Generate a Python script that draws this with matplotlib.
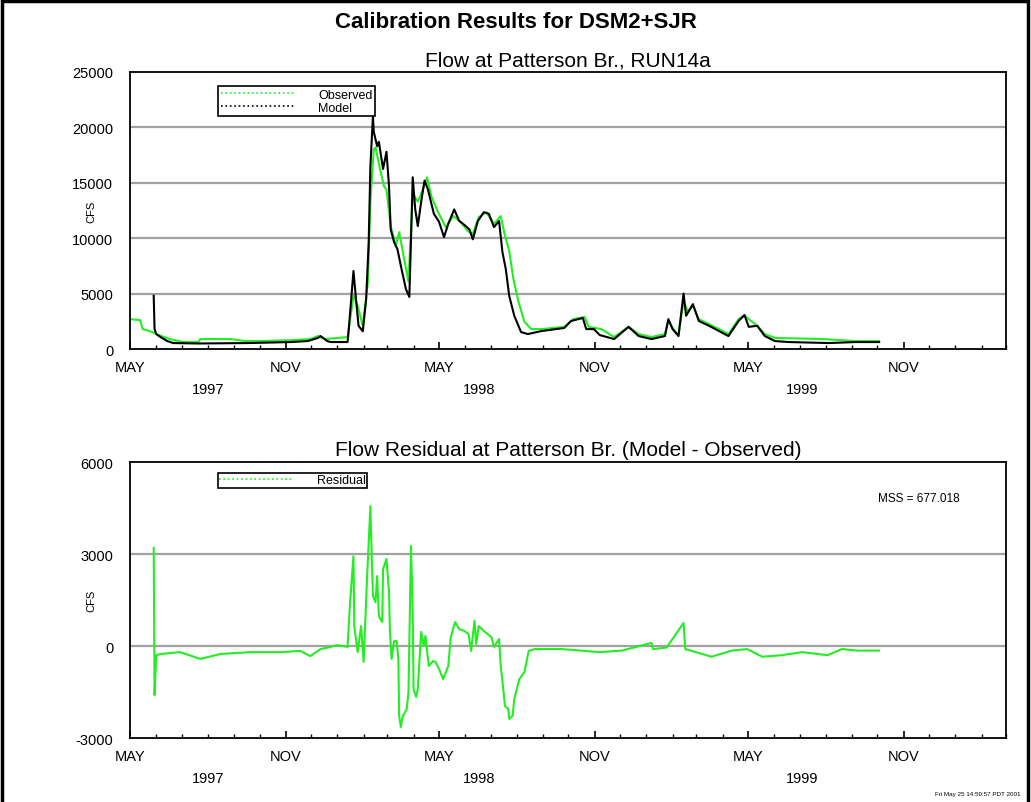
"""
Calibration results, DSM2+SJR: flow and residual at Patterson Br.
"""

import matplotlib
matplotlib.use('Agg')
import matplotlib.pyplot as plt
import matplotlib.dates as mdates
from matplotlib.lines import Line2D
from matplotlib.patches import Rectangle
import pandas as pd

plt.rcParams['font.family'] = ['Liberation Sans', 'DejaVu Sans']
plt.rcParams['axes.unicode_minus'] = False

start = pd.Timestamp('1997-05-01')

# days since 1997-05-01 and flow (cfs)
obs_days = [0, 12, 15, 24, 27, 36, 47, 63, 81, 83, 119, 136, 154, 190, 213, 222, 231, 257,
            264, 269, 275, 281, 284, 288, 290, 295, 300, 303, 308, 314, 318, 324, 329,
            334, 340, 346, 351, 356, 364, 373, 382, 391, 399, 405, 412, 421, 430, 438,
            442, 448, 453, 459, 466, 474, 486, 513, 524, 537, 542, 557, 572, 589, 601,
            616, 632, 636, 642, 648, 654, 659, 665, 672, 696, 707, 719, 726, 741, 750,
            762, 818, 857, 885]
obs_flow = [2700, 2600, 1800, 1600, 1500, 1200, 900, 630, 630, 900, 900, 720, 720, 800, 900, 1170, 900, 1080,
            4800, 3900, 2100, 6000, 13300, 18000, 18200, 16400, 14700, 14400, 11100, 9300, 10550, 8100, 6100,
            14000, 13300, 14400, 15500, 13800, 12350, 11000, 12000, 11450, 10650, 10400, 11900, 12350, 11300, 12000,
            10550, 8850, 6300, 4250, 2450, 1800, 1800, 2000, 2700, 2900, 2000, 1800, 1080, 2000, 1350,
            1080, 1350, 2530, 1800, 1260, 4300, 3400, 3900, 2700, 1800, 1350, 2700, 3000, 2100, 1350,
            1000, 900, 720, 720]

mod_days = [28, 29, 31, 36, 44, 51, 80, 140, 190, 210, 222, 225, 233, 237, 257, 258,
            264, 267, 270, 275, 279, 282, 284, 287, 288, 292, 294, 299, 303, 306, 308,
            312, 316, 320, 326, 330, 332, 334, 337, 340, 344, 348, 352, 359, 365, 371,
            376, 383, 389, 395, 401, 405, 411, 418, 424, 430, 436, 440, 444, 448, 454,
            462, 470, 486, 513, 521, 535, 539, 548, 555, 572, 589, 601, 616, 632, 636,
            641, 648, 654, 657, 665, 672, 684, 696, 707, 719, 726, 731, 741, 750, 762,
            778, 826, 857, 885]
mod_flow = [4800, 1800, 1350, 1080, 720, 540, 500, 540, 630, 720, 1000, 1170, 720, 630, 630, 1350,
            7040, 4500, 2100, 1600, 4500, 9650, 16500, 21000, 19600, 18300, 18700, 16250, 17800, 14700, 10800,
            9650, 9000, 7500, 5400, 4700, 9900, 15500, 12600, 11100, 13300, 15200, 14400, 12200, 11500, 10100,
            11300, 12600, 11550, 11200, 10800, 9900, 11550, 12350, 12200, 11000, 11550, 8750, 7200, 4800, 3000,
            1530, 1350, 1620, 1900, 2530, 2800, 1800, 1800, 1260, 900, 2000, 1170, 900, 1170, 2700,
            1800, 1170, 5000, 3000, 4050, 2530, 2100, 1620, 1170, 2530, 3070, 2000, 2100, 1170, 720,
            630, 540, 630, 630]

res_days = [28, 29, 31, 36, 59, 83, 107, 142, 178, 201, 213, 225, 237, 245, 257, 260,
            264, 265, 269, 273, 276, 280, 284, 285, 287, 290, 292, 294, 298, 299, 303,
            306, 307, 309, 312, 315, 317, 318, 320, 322, 327, 329, 332, 334, 335, 338,
            340, 344, 347, 349, 353, 358, 361, 365, 370, 376, 379, 384, 389, 395, 400,
            403, 407, 409, 412, 418, 427, 430, 436, 438, 441, 443, 447, 448, 452, 454,
            460, 466, 471, 478, 510, 555, 581, 616, 618, 634, 654, 656, 687, 711, 729,
            747, 770, 794, 824, 841, 859, 885]
res_flow = [3200, -1600, -300, -260, -200, -420, -260, -200, -200, -160, -330, -100, -30, 30, -30, 1430,
            2930, 650, -200, 650, -520, 2180, 4560, 3490, 1630, 1430, 2280, 980, 780, 2510, 2840,
            1760, 550, -420, 160, 160, -420, -2280, -2640, -2310, -2050, -1500, 3260, 1110, -1400, -1660,
            -1400, 460, 0, 330, -650, -490, -520, -750, -1080, -650, 290, 780, 550, 490, 390,
            -160, 820, 65, 650, 490, 290, -30, 230, -650, -1400, -1960, -2050, -2380, -2280, -1730,
            -1080, -850, -160, -100, -100, -200, -150, 100, -100, -50, 750, -100, -350, -150, -100,
            -350, -300, -200, -300, -100, -150, -150]

year_days = [92, 412, 794]
year_labels = ['1997', '1998', '1999']

top_yticks = [0, 5000, 10000, 15000, 20000, 25000]
bot_yticks = [-3000, 0, 3000, 6000]
mss = 677.018

GREEN = '#22ee22'
GRID = '#a0a0a0'


def to_dates(days):
    return start + pd.to_timedelta(days, unit='D')


def style_axis(ax, yticks):
    ax.set_xlim(start, pd.Timestamp('2000-03-01'))
    ax.set_ylim(yticks[0], yticks[-1])
    ax.set_yticks(yticks)
    ax.tick_params(axis='y', length=0, pad=12, labelsize=10.5)
    for y in yticks[1:-1]:
        ax.axhline(y, color=GRID, lw=1.6, zorder=0)
    ax.xaxis.set_major_locator(mdates.MonthLocator(bymonth=[5, 11]))
    ax.xaxis.set_minor_locator(mdates.MonthLocator())
    ax.xaxis.set_major_formatter(mdates.DateFormatter('%b'))
    ax.tick_params(axis='x', which='major', direction='in', length=5, width=1.2,
                   pad=8, labelsize=10.5)
    ax.tick_params(axis='x', which='minor', direction='in', length=3, width=1)
    ax.set_xticklabels([t.get_text().upper() for t in ax.get_xticklabels()])
    for d, lab in zip(year_days, year_labels):
        ax.annotate(lab, xy=(to_dates([d])[0], 0), xycoords=('data', 'axes fraction'),
                    xytext=(0, -24), textcoords='offset points', ha='center', va='top',
                    fontsize=10.5)
    for s in ax.spines.values():
        s.set_linewidth(1.3)
    ax.set_ylabel('CFS', fontsize=8)
    ax.yaxis.set_label_coords(-0.038, 0.5)


fig = plt.figure(figsize=(10.31, 8.03), dpi=100)
fig.patch.set_facecolor('white')
fig.add_artist(Rectangle((0.002, -0.01), 0.995, 1.007, transform=fig.transFigure,
                         fill=False, edgecolor='black', lw=2.5))

ax1 = fig.add_axes([0.1261, 0.5641, 0.8497, 0.345])
ax2 = fig.add_axes([0.1261, 0.0797, 0.8497, 0.3437])

# upper panel: observed and model flow
ax1.plot(to_dates(obs_days), obs_flow, color=GREEN, lw=1.5)
ax1.plot(to_dates(mod_days), mod_flow, color='black', lw=1.5)
fig.canvas.draw()
style_axis(ax1, top_yticks)
ax1.set_title('Flow at Patterson Br., RUN14a', fontsize=15, pad=5)
handles = [Line2D([], [], color=GREEN, ls=':', lw=1.2),
           Line2D([], [], color='black', ls=':', lw=1.2)]
leg = ax1.legend(handles, ['Observed', 'Model'], loc='upper left',
                 bbox_to_anchor=(0.1005, 0.949), fontsize=9, handlelength=6.0,
                 handletextpad=1.8, labelspacing=0.1, borderpad=0.2,
                 borderaxespad=0, fancybox=False, framealpha=1)
leg.get_frame().set_edgecolor('black')
leg.get_frame().set_linewidth(1.2)

# lower panel: residual
ax2.plot(to_dates(res_days), res_flow, color=GREEN, lw=1.5)
fig.canvas.draw()
style_axis(ax2, bot_yticks)
ax2.set_title('Flow Residual at Patterson Br. (Model - Observed)', fontsize=15, pad=5)
leg2 = ax2.legend([Line2D([], [], color=GREEN, ls=':', lw=1.2)], ['Residual'],
                  loc='upper left', bbox_to_anchor=(0.1005, 0.960), fontsize=9,
                  handlelength=6.0, handletextpad=1.8, borderpad=0.1,
                  borderaxespad=0, fancybox=False, framealpha=1)
leg2.get_frame().set_edgecolor('black')
leg2.get_frame().set_linewidth(1.2)
ax2.text(0.9475, 0.87, f'MSS = {mss:.3f}', transform=ax2.transAxes,
         ha='right', va='center', fontsize=8.5)

fig.text(0.5, 0.972, 'Calibration Results for DSM2+SJR', ha='center', va='center',
         fontsize=16, fontweight='bold')
fig.text(0.907, 0.007, 'Fri May 25 14:59:57 PDT 2001', fontsize=4.5, ha='left',
         va='bottom')

fig.savefig('out.png', dpi=100)
